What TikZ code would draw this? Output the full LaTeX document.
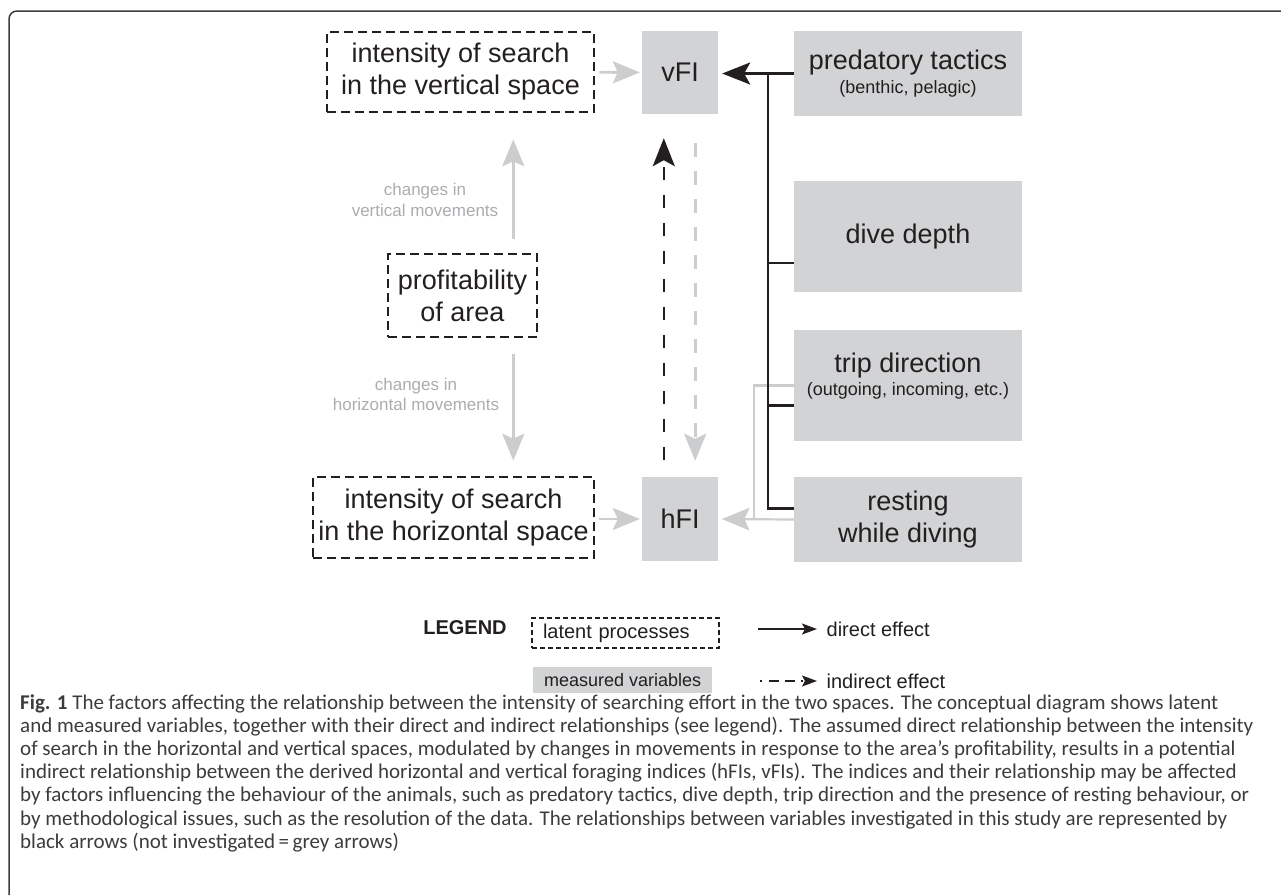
\documentclass[tikz,border=0pt]{standalone}
\usepackage{fontspec}
\setmainfont{Liberation Sans}
\newfontfamily\capfont{Carlito}
\usepackage{tikz}
\usetikzlibrary{arrows.meta}
\definecolor{boxgrey}{RGB}{209,211,212}
\definecolor{arrowgrey}{RGB}{204,205,207}
\definecolor{labelgrey}{RGB}{170,172,175}
\definecolor{ink}{RGB}{35,31,32}
\definecolor{captext}{RGB}{60,60,60}
\newcommand\boxfont{\fontsize{27}{32}\selectfont}
\newcommand\subfont{\fontsize{18}{22}\selectfont}
\newcommand\keyfont{\fontsize{20}{24}\selectfont}

\begin{document}
\begin{tikzpicture}[x=1pt,y=-1pt,
  latent/.style={draw=ink,line width=2.6pt,dash pattern=on 9pt off 5pt,inner sep=0pt,align=center,text=ink,font=\boxfont},
  measured/.style={fill=boxgrey,inner sep=0pt,align=center,text=ink,font=\boxfont},
  change/.style={text=labelgrey,align=center,font=\fontsize{17}{20.5}\selectfont},
  greyarrow/.style={draw=arrowgrey,line width=2.8pt,-{Stealth[length=27pt,width=22pt,inset=5pt]}},
  greydash/.style={greyarrow,dash pattern=on 14pt off 14pt},
  direct/.style={draw=ink,line width=2.4pt,-{Stealth[length=28pt,width=22pt,inset=6pt]}},
  indirect/.style={direct,dash pattern=on 13pt off 15pt},
  bus/.style={draw=ink,line width=2.4pt},
  keyarrow/.style={draw=ink,line width=1.3pt,-{Stealth[length=15pt,width=11pt,inset=3pt]}},
  keytext/.style={inner sep=0pt,text=ink,font=\keyfont,anchor=west},
  caption/.style={anchor=base west,inner sep=0pt,text=captext,font=\capfont\fontsize{21}{23}\selectfont}
]
\useasboundingbox (0,0) rectangle (1281,895);
\draw[draw=captext,line width=1.5pt,rounded corners=8pt] (9,895) -- (9,11) -- (1281,11);

% latent processes
\node[latent,minimum width=267pt,minimum height=80pt] (vsearch) at (460.5,72) {intensity of search\\in the vertical space};
\node[latent,minimum width=149pt,minimum height=83pt] (prof) at (462.5,295.5) {profitability\\of area};
\node[latent,minimum width=281pt,minimum height=81pt] (hsearch) at (453.5,517.5) {intensity of search\\in the horizontal space};

% measured variables
\node[measured,minimum width=76pt,minimum height=83pt] (vFI) at (680,72.5) {vFI};
\node[measured,minimum width=76pt,minimum height=84pt] (hFI) at (680,519) {hFI};
\node[measured,minimum width=228pt,minimum height=85pt] (pred) at (908,73.5) {predatory tactics\\[-8pt]{\subfont(benthic, pelagic)}};
\node[measured,minimum width=228pt,minimum height=111pt] (dive) at (908,236.5) {dive depth};
\node[measured,minimum width=228pt,minimum height=111pt] (trip) at (908,385.5) {};
\node[text=ink,align=center,font=\boxfont,inner sep=0pt] (triptext) at ([yshift=9pt]trip.center) {trip direction\\[-9pt]{\subfont(outgoing, incoming, etc.)}};
\node[measured,minimum width=228pt,minimum height=85pt] (rest) at (908,519.5) {resting\\while diving};

\node[change] (vchange) at (425,200) {changes in\\vertical movements};
\node[change] (hchange) at (416,394.5) {changes in\\horizontal movements};

% connectors
\draw[greyarrow,shorten <=4pt,shorten >=2pt] (vsearch) -- (vFI);
\draw[greyarrow,shorten <=4pt,shorten >=2pt] (hsearch.east |- hFI) -- (hFI);
\draw[greyarrow,shorten <=14pt,shorten >=26pt] ([xshift=-25pt]prof.north east) -- ([xshift=-25pt]prof.north east |- vsearch.south);
\draw[greyarrow,shorten <=16pt,shorten >=15pt] ([xshift=-25pt]prof.south east) -- ([xshift=-25pt]prof.south east |- hsearch.north);
\draw[indirect,shorten <=17pt,shorten >=24pt] ([xshift=22pt]hFI.north west) -- ([xshift=22pt]vFI.south west);
\draw[greydash,shorten <=29pt,shorten >=16pt] ([xshift=-23pt]vFI.south east) -- ([xshift=-23pt]hFI.north east);
\draw[greyarrow,line width=2.2pt,shorten >=4pt] (trip.west) -- ++(-40,0) |- (hFI.east);
\draw[greyarrow,line width=2.2pt,shorten >=4pt] (rest.west) -- (hFI.east);
\coordinate (bus) at ([xshift=-26pt]pred.west);
\draw[direct,shorten >=4pt] (pred.west) -- (vFI.east |- pred.west);
\draw[bus] (bus) |- ([yshift=11pt]rest.west);
\draw[bus] (bus |- dive.south west) ++(0,-29) -- ++(26,0);
\draw[bus] (bus |- trip.west) ++(0,20) -- ++(26,0);

% legend
\node[font=\keyfont\bfseries,text=ink] (legend) at (465,628) {LEGEND};
\node[draw=ink,line width=1.2pt,dash pattern=on 5pt off 3pt,text=ink,font=\keyfont,inner xsep=11pt,inner ysep=0pt,text width=165pt,minimum height=30pt,align=left] (latentkey) at (625.5,633) {latent processes};
\node[fill=boxgrey,text=ink,font=\fontsize{18}{22}\selectfont,inner xsep=11pt,inner ysep=0pt,minimum height=26pt,anchor=west] (measuredkey) at (533,680) {measured variables};
\coordinate (directtail) at (758,629);
\coordinate (indirecttail) at (760,681);
\draw[keyarrow] (directtail) -- ++(59,0) node[keytext,right=9pt] (directtext) {direct effect};
\draw[keyarrow,dash pattern=on 2pt off 7pt on 10pt off 6pt on 10pt off 6pt] (indirecttail) -- ++(57,0) node[keytext,right=9pt] (indirecttext) {indirect effect};

% caption
\foreach \ln/\txt in {
  0/{\textbf{Fig. 1} The factors affecting the relationship between the intensity of searching effort in the two spaces. The conceptual diagram shows latent},
  1/{and measured variables, together with their direct and indirect relationships (see legend). The assumed direct relationship between the intensity},
  2/{of search in the horizontal and vertical spaces, modulated by changes in movements in response to the area’s profitability, results in a potential},
  3/{indirect relationship between the derived horizontal and vertical foraging indices (hFIs, vFIs). The indices and their relationship may be affected},
  4/{by factors influencing the behaviour of the animals, such as predatory tactics, dive depth, trip direction and the presence of resting behaviour, or},
  5/{by methodological issues, such as the resolution of the data. The relationships between variables investigated in this study are represented by},
  6/{black arrows (not investigated\,=\,grey arrows)}}
  \node[caption] (cap\ln) at (20,{709+23.2*\ln}) {\txt};
\end{tikzpicture}
\end{document}
